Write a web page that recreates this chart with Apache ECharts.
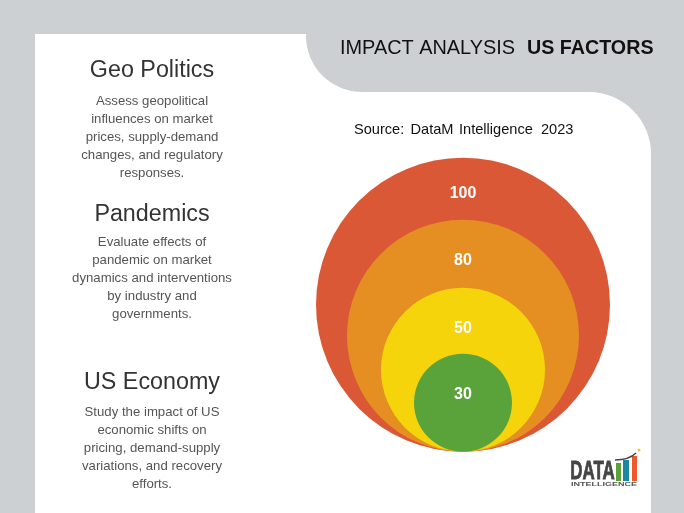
<!DOCTYPE html>
<html>
<head>
<meta charset="utf-8">
<style>html,body{margin:0;padding:0;background:#fff}#main{width:684px;height:513px}</style>
<script src="https://cdn.jsdelivr.net/npm/echarts@6/dist/echarts.min.js"></script>
</head>
<body>
<div id="main"></div>
<script>
// chart values, outermost ring first
const ringValues = [100, 80, 50, 30];

const factorTitles = ["Geo Politics", "Pandemics", "US Economy"];
const factorLines = [
  ["Assess geopolitical", "influences on market", "prices, supply-demand", "changes, and regulatory", "responses."],
  ["Evaluate effects of", "pandemic on market", "dynamics and interventions", "by industry and", "governments."],
  ["Study the impact of US", "economic shifts on", "pricing, demand-supply", "variations, and recovery", "efforts."]
];
const sourceWords = ["Source:", "DataM", "Intelligence", "2023"];

// styling, per ring
const ringColors = ["#DA5835", "#E58F23", "#F5D40C", "#5AA33B"];
const ringDiameters = [294, 232, 164, 98];
const labelOffsets = [-111, -75.5, -41, -8];

const FONT = '"Liberation Sans", Arial, sans-serif';
const GREY = "#CDD0D3";
const titleY = [71, 215, 382.5];
const firstLineY = [101.7, 242.7, 412.7];
const lineStep = 17.8;
const sourceX = [354, 410.5, 459, 541];

function txt(text, x, y, size, color, opts, elOpts) {
  return Object.assign({
    type: "text",
    x: x,
    y: y,
    z: 5,
    style: Object.assign({
      text: text,
      fill: color,
      font: size + "px " + FONT,
      align: "center",
      verticalAlign: "middle"
    }, opts || {})
  }, elOpts || {});
}

function box(x, y, w, h, fill, r) {
  return { type: "rect", z: 1, shape: { x: x, y: y, width: w, height: h, r: r || 0 }, style: { fill: fill } };
}

var graphics = [
  box(35, 34, 330, 60, "#fff"),
  box(35, 92, 616, 421, "#fff", [0, 62, 0, 0]),
  box(306, 34, 378, 58, GREY, [0, 0, 0, 56]),
  txt("IMPACT ANALYSIS", 340, 48.5, 19.9, "#111", { align: "left" }),
  txt("US FACTORS", 527, 48.5, 19.7, "#111", { align: "left", font: "bold 19.7px " + FONT })
];

sourceWords.forEach(function (w, i) {
  graphics.push(txt(w, sourceX[i], 130, 14.6, "#111", { align: "left" }));
});

factorTitles.forEach(function (t, i) {
  graphics.push(txt(t, 152, titleY[i], 23.3, "#333"));
  factorLines[i].forEach(function (line, j) {
    graphics.push(txt(line, 152, firstLineY[i] + j * lineStep, 13.2, "#555"));
  });
});

// logo
graphics.push(
  box(616, 463, 5, 18, "#5AA33B"),
  box(623, 460, 6, 21, "#1B86A8"),
  box(632, 456, 5, 25, "#F0592B"),
  { type: "bezierCurve", z: 5, shape: { x1: 615, y1: 460, x2: 636, y2: 453, cpx1: 624, cpy1: 460, cpx2: 631, cpy2: 458 }, style: { stroke: "#444", fill: null, lineWidth: 1.5 } },
  { type: "circle", z: 5, shape: { cx: 639, cy: 450, r: 1.5 }, style: { fill: "#F5C04A" } },
  txt("DATA", 592.5, 472, 26, "#444", { font: "bold 26px " + FONT, stroke: "#444", lineWidth: 0.8 }, { scaleX: 0.65 }),
  txt("INTELLIGENCE", 604, 484.5, 5, "#555", { font: "bold 5px " + FONT }, { scaleX: 1.8 })
);

var myChart = echarts.init(document.getElementById("main"), null, { renderer: "canvas" });
var option = {
  animation: false,
  backgroundColor: GREY,
  grid: { left: 363, width: 200, top: 151.7, height: 300 },
  xAxis: { type: "value", min: -1, max: 1, show: false },
  yAxis: { type: "value", min: 0, max: 1, show: false },
  graphic: graphics,
  series: [
    {
      type: "scatter",
      clip: false,
      z: 3,
      data: ringValues.map(function (v, i) {
        return {
          value: [0, 0, v],
          symbolSize: ringDiameters[i],
          symbolOffset: [0, -ringDiameters[i] / 2],
          itemStyle: { color: ringColors[i], opacity: 1 },
          label: {
            show: true,
            position: "inside",
            offset: [0, labelOffsets[i]],
            formatter: String(v),
            color: "#fff",
            fontFamily: FONT,
            fontWeight: "bold",
            fontSize: 16
          }
        };
      })
    }
  ]
};
option && myChart.setOption(option);
</script>
</body>
</html>
